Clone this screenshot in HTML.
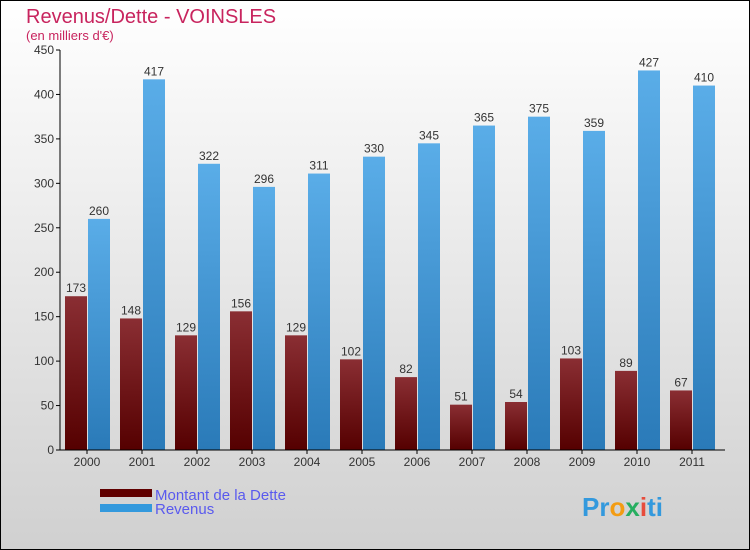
<!DOCTYPE html>
<html><head><meta charset="utf-8"><style>
body{margin:0}svg{display:block}
text{font-family:"Liberation Sans",sans-serif}
</style></head><body>
<svg id="c" width="750" height="550" xmlns="http://www.w3.org/2000/svg">
<defs>
<linearGradient id="bg" x1="0" y1="0" x2="0" y2="1"><stop offset="0" stop-color="#ffffff"/><stop offset="1" stop-color="#d0d0d0"/></linearGradient>
<linearGradient id="gd" x1="0" y1="0" x2="0" y2="1"><stop offset="0" stop-color="#8a2e33"/><stop offset="1" stop-color="#550000"/></linearGradient>
<linearGradient id="gr" x1="0" y1="0" x2="0" y2="1"><stop offset="0" stop-color="#5aade8"/><stop offset="1" stop-color="#2a7ab8"/></linearGradient>
</defs>
<rect x="0.5" y="0.5" width="749" height="549" fill="url(#bg)" stroke="#000"/>
<text x="26" y="23" font-size="20" fill="#c8245e">Revenus/Dette - VOINSLES</text>
<text x="26" y="40" font-size="13" fill="#c8245e">(en milliers d'€)</text>
<g id="plot"></g>
<g>
<rect x="100" y="489" width="52" height="8" fill="#600000"/>
<text x="155" y="500" font-size="15" fill="#5a5aee">Montant de la Dette</text>
<rect x="100" y="504" width="52" height="8" fill="#3399dd"/>
<text x="155" y="514" font-size="15" fill="#5a5aee">Revenus</text>
</g>
<text x="582" y="516" font-size="26" font-weight="bold"><tspan fill="#3399dd">Pr</tspan><tspan fill="#f39c12">o</tspan><tspan fill="#27ae60">x</tspan><tspan fill="#e74c3c">i</tspan><tspan fill="#3399dd">ti</tspan></text>
</svg>
<script>
const years=["2000","2001","2002","2003","2004","2005","2006","2007","2008","2009","2010","2011"];
const dette=[173,148,129,156,129,102,82,51,54,103,89,67];
const revenus=[260,417,322,296,311,330,345,365,375,359,427,410];
const yTicks=[0,50,100,150,200,250,300,350,400,450];
const NS="http://www.w3.org/2000/svg";
const g=document.getElementById('plot');
const y=v=>450-v*400/450;
const xc=i=>87+i*55;
function mk(t,a){const e=document.createElementNS(NS,t);for(const k in a)e.setAttribute(k,a[k]);g.appendChild(e);return e;}
yTicks.forEach(t=>{
 const l=mk('line',{x1:56,x2:60,y1:y(t),y2:y(t),stroke:'#000'});
 
 
 const tx=mk('text',{x:54,y:y(t)+4,'font-size':12,'text-anchor':'end',fill:'#333'});tx.textContent=t;
 
 
});
years.forEach((yr,i)=>{
 const c=xc(i);
 const b1=mk('rect',{x:c-22,y:y(dette[i]),width:22,height:450-y(dette[i]),fill:'url(#gd)'});
 
 
 const b2=mk('rect',{x:c+1,y:y(revenus[i]),width:22,height:450-y(revenus[i]),fill:'url(#gr)'});
 
 
 const t1=mk('text',{x:c-11,y:y(dette[i])-4,'font-size':12,'text-anchor':'middle',fill:'#333'});t1.textContent=dette[i];
 
 
 const t2=mk('text',{x:c+12,y:y(revenus[i])-4,'font-size':12,'text-anchor':'middle',fill:'#333'});t2.textContent=revenus[i];
 
 
 const tk=mk('line',{x1:c,x2:c,y1:450,y2:454,stroke:'#000'});
 
 
 const xl=mk('text',{x:c,y:466,'font-size':12,'text-anchor':'middle',fill:'#333'});xl.textContent=yr;
 
 
});
const ya=mk('line',{x1:60,x2:60,y1:50,y2:450,stroke:'#000'});


const xa=mk('line',{x1:60,x2:725,y1:450,y2:450,stroke:'#000'});


</script>
</body></html>
